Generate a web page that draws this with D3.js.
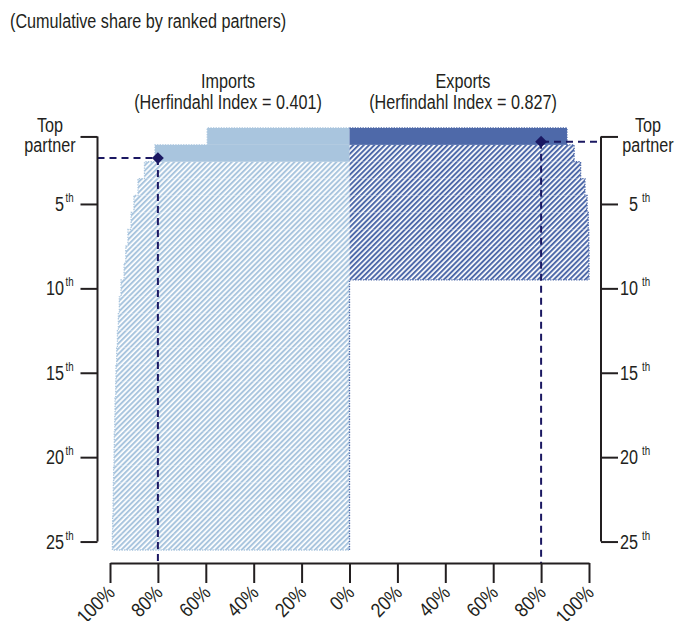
<!DOCTYPE html>
<html><head><meta charset="utf-8">
<script src="https://cdn.jsdelivr.net/npm/d3@7"></script>
<style>
body{margin:0;background:#fff;}
svg text{font-family:"Liberation Sans",Arial,sans-serif;fill:#231f20;}
</style></head><body>
<svg id="c" width="680" height="621"></svg>
<script>
// ---- data ----
const ranks = [1,2,3,4,5,6,7,8,9,10,11,12,13,14,15,16,17,18,19,20,21,22,23,24,25];
const importsShare = [59.4,81.2,85.6,88.3,90.0,91.2,92.5,93.4,94.1,95.4,96.1,96.5,96.9,97.2,97.5,97.6,97.9,98.0,98.2,98.3,98.5,98.6,98.7,98.9,99.0];
const exportsShare = [90.8,93.8,96.5,98.3,99.2,99.7,99.9,100,100,0,0,0,0,0,0,0,0,0,0,0,0,0,0,0,0];
const seriesNames = ["Imports","Exports"];
const herfindahl = [0.401, 0.827];
const threshold = 80;               // cumulative share marked by the diamond
const crossRank = [2.28, 1.31];     // rank position where threshold is reached
const rankTicks = [1,5,10,15,20,25];
const shareTicks = [0,20,40,60,80,100];
const title = "(Cumulative share by ranked partners)";

// ---- styles ----
const colImp = "#a9c5de", colExp = "#4e69a9", colMark = "#1b1862", colAxis = "#231f20";
const SX = 0.81; // horizontal condensing of text

const svg = d3.select("#c");
const cx = 349.5;
const xL = d3.scaleLinear().domain([0,100]).range([cx,110]);
const xR = d3.scaleLinear().domain([0,100]).range([cx,589]);
const y = d3.scaleLinear().domain([0.5,25.5]).range([128,550]);
const axL = 97.5, axR = 601, axB = 563;

function label(x, yy, txt, size, anchor, rot, sx){
  return svg.append("text")
    .attr("transform", `translate(${x},${yy})` + (rot ? ` rotate(${rot})` : "") + ` scale(${sx||SX},1)`)
    .attr("text-anchor", anchor || "start").attr("font-size", size).text(txt);
}

// patterns
const defs = svg.append("defs");
[["hImp",colImp],["hExp",colExp]].forEach(([id,c])=>{
  const p = defs.append("pattern").attr("id",id).attr("patternUnits","userSpaceOnUse")
    .attr("width",3.7).attr("height",10).attr("patternTransform","rotate(45)");
  p.append("rect").attr("x",0).attr("y",0).attr("width",2).attr("height",10).attr("fill",c);
});

label(10, 28, title, 20);

const series = [
  {vals: importsShare, x: xL, col: colImp, hatch: "url(#hImp)", center: 228},
  {vals: exportsShare, x: xR, col: colExp, hatch: "url(#hExp)", center: 463}
];

series.forEach((s,i)=>{
  const firstSolid = s.vals.findIndex(v=>v>=threshold);
  const g = svg.append("g");
  ranks.forEach((r,k)=>{
    const v = s.vals[k];
    if (v<=0) return;
    const x0 = s.x(0), x1 = s.x(v);
    g.append("rect")
      .attr("x",Math.min(x0,x1)).attr("width",Math.abs(x1-x0))
      .attr("y",y(r-0.5)).attr("height",y(r+0.5)-y(r-0.5))
      .attr("fill", k<=firstSolid ? s.col : s.hatch);
  });
  // dotted outline along outer edge
  const pts = [[s.x(0), y(0.5)]];
  ranks.forEach((r,k)=>{
    pts.push([s.x(s.vals[k]), y(r-0.5)]);
    pts.push([s.x(s.vals[k]), y(r+0.5)]);
  });
  pts.push([s.x(0), y(25.5)]);
  g.append("path").attr("d", d3.line()(pts)).attr("fill","none")
    .attr("stroke", s.col).attr("stroke-width",1.3).attr("stroke-dasharray","1.3,1.3");

  label(s.center, 88, seriesNames[i], 20, "middle");
  label(s.center, 109, `(Herfindahl Index = ${herfindahl[i].toFixed(3)})`, 20, "middle");
});

// dashed guide lines and diamonds
series.forEach((s,i)=>{
  const px = s.x(threshold), py = y(crossRank[i]);
  const hx = i===0 ? axL : axR-4;
  svg.append("path").attr("d",`M${hx},${py}H${px}`).attr("stroke",colMark).attr("stroke-width",2)
    .attr("stroke-dasharray","7,5").attr("fill","none");
  svg.append("path").attr("d",`M${px},${py}V${axB}`).attr("stroke",colMark).attr("stroke-width",2)
    .attr("stroke-dasharray","7,5").attr("fill","none");
  svg.append("path").attr("d",d3.symbol(d3.symbolSquare,70)()).attr("fill",colMark)
    .attr("transform",`translate(${px},${py}) rotate(45)`);
});

// y axes
function yAxis(axisFn, xpos){
  const g = svg.append("g").attr("transform",`translate(${xpos},0)`)
    .call(axisFn(y).tickValues(rankTicks).tickSize(17).tickSizeOuter(0).tickFormat(""));
  g.select(".domain").attr("d",`M0,${y(1)}V${y(25)}`);
  g.selectAll("path,line").attr("stroke",colAxis).attr("stroke-width",2);
  return g;
}
yAxis(d3.axisLeft, axL);
yAxis(d3.axisRight, axR);

// y labels
rankTicks.forEach(r=>{
  const yy = y(r);
  if (r===1){
    [50,648].forEach(lx=>{
      label(lx, yy-4, "Top", 20, "middle");
      label(lx, yy+16, "partner", 20, "middle");
    });
  } else {
    [[64,1.5],[638,4]].forEach(([lx,gap])=>{
      label(lx, yy+7, r, 20, "end");
      label(lx+gap, yy-2, "th", 12);
    });
  }
});

// x axes
[xL,xR].forEach(sc=>{
  const g = svg.append("g").attr("transform",`translate(0,${axB})`)
    .call(d3.axisBottom(sc).tickValues(shareTicks).tickSize(20).tickSizeOuter(0).tickFormat(""));
  g.selectAll("path,line").attr("stroke",colAxis).attr("stroke-width",2);
  shareTicks.forEach(t=>{
    if (sc===xR && t===0) return;
    label(sc(t)+6, axB+31, t+"%", 20, "end", -45, 0.86);
  });
});
</script></body></html>
